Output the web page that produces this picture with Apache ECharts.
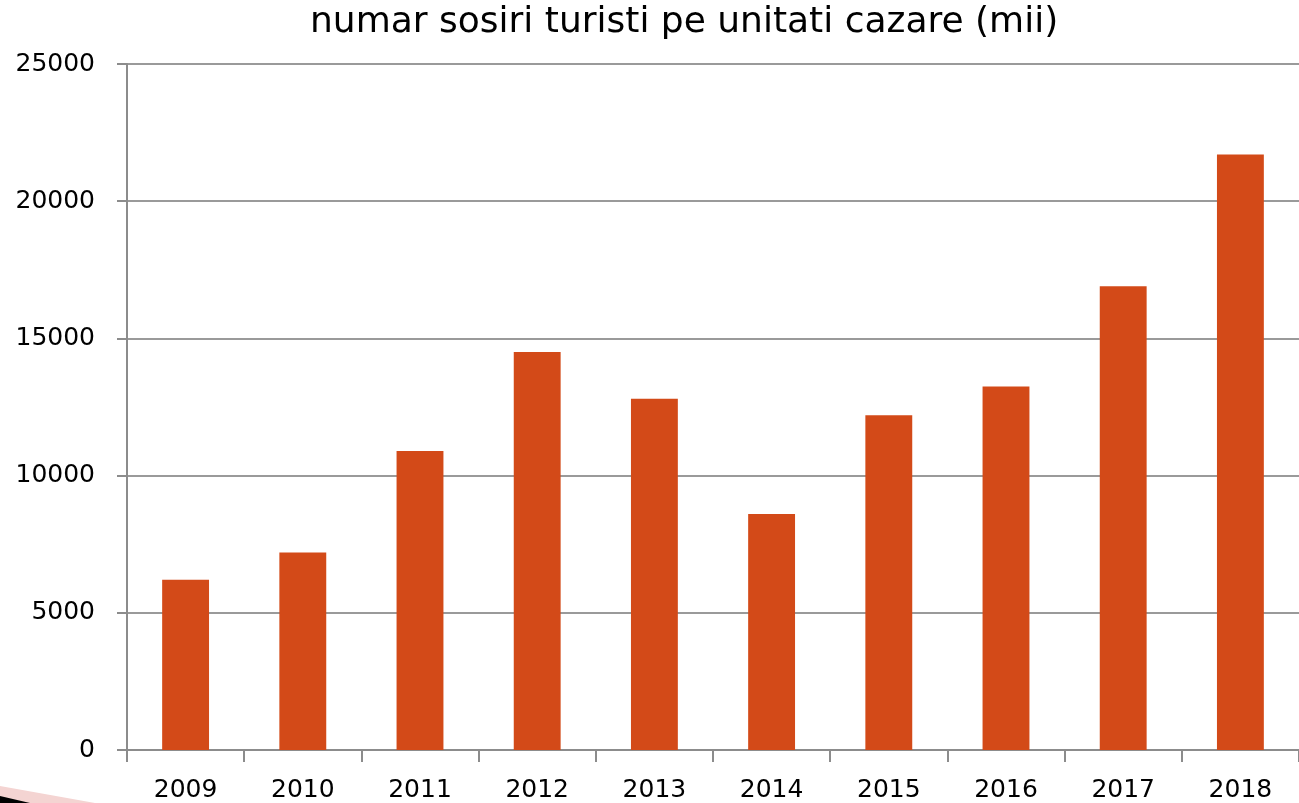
<!DOCTYPE html>
<html>
<head>
<meta charset="utf-8">
<script src="https://cdn.jsdelivr.net/npm/echarts@6/dist/echarts.min.js"></script>
<style>
  html, body { margin: 0; padding: 0; background: #fff; }
  #chart { width: 1299px; height: 803px; }
</style>
</head>
<body>
<div id="chart"></div>
<script>
const years = ["2009", "2010", "2011", "2012", "2013", "2014", "2015", "2016", "2017", "2018"];
const arrivals = [6200, 7200, 10900, 14500, 12800, 8600, 12200, 13250, 16900, 21700];
const yTicks = [0, 5000, 10000, 15000, 20000, 25000];

const chart = echarts.init(document.getElementById("chart"));
const font = "'DejaVu Sans', sans-serif";

chart.setOption({
    backgroundColor: "#fff",
    animation: false,
    title: {
        text: "numar sosiri turisti pe unitati cazare (mii)",
        left: 305,
        top: 0,
        textStyle: { fontFamily: font, fontSize: 36, fontWeight: "normal", color: "#000" }
    },
    grid: { left: 127, right: 0, top: 64, bottom: 51 },
    xAxis: {
        type: "category",
        data: years,
        axisLine: { lineStyle: { color: "#8c8c8c", width: 2 } },
        axisTick: { show: true, length: 12, alignWithLabel: false, lineStyle: { color: "#8c8c8c", width: 2 } },
        axisLabel: { fontFamily: font, fontSize: 25, color: "#000", margin: 28 }
    },
    yAxis: {
        type: "value",
        min: yTicks[0],
        max: yTicks[yTicks.length - 1],
        interval: 5000,
        axisLine: { show: true, lineStyle: { color: "#8c8c8c", width: 2 } },
        axisTick: { show: true, length: 10, lineStyle: { color: "#8c8c8c", width: 2 } },
        splitLine: { lineStyle: { color: "#9a9a9a", width: 2 } },
        axisLabel: { fontFamily: font, fontSize: 25, color: "#000", margin: 32, formatter: v => String(v) }
    },
    series: [{
        type: "bar",
        data: arrivals,
        barWidth: "40%",
        itemStyle: { color: "#d34a18" }
    }],
    graphic: [
        { type: "polygon", shape: { points: [[0, 786], [95, 803], [0, 803]] }, style: { fill: "#f4d4d2" } },
        { type: "polygon", shape: { points: [[0, 796], [30, 803], [0, 803]] }, style: { fill: "#000" } }
    ]
});
</script>
</body>
</html>
